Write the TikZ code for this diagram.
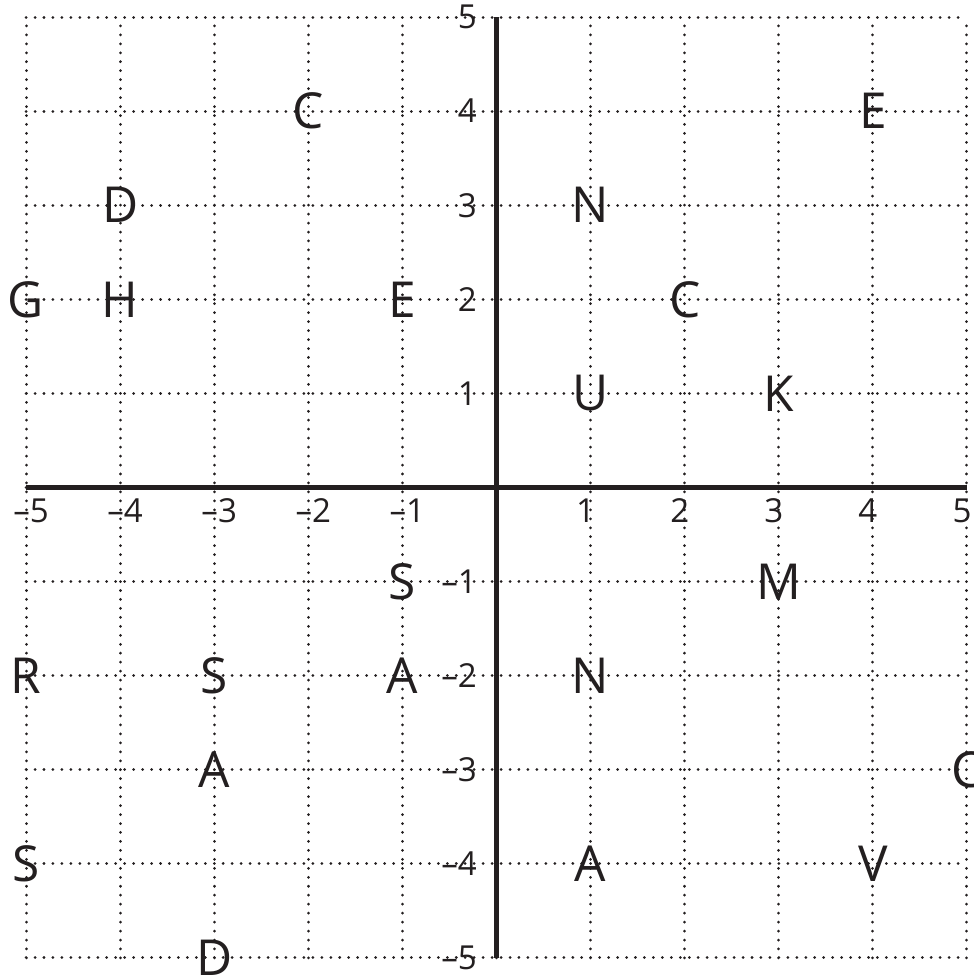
\documentclass[tikz,border=0pt]{standalone}
\usepackage{fontspec}
\setmainfont{Open Sans}
\usepackage{tikz}
\usepackage{xcolor}
\definecolor{ink}{HTML}{231F20}

\begin{document}
\begin{tikzpicture}[x=1cm, y=1cm, line width=0.6pt,
    letter/.style={font=\fontsize{15}{15}\selectfont, text=ink, inner sep=0pt},
    tick/.style={font=\fontsize{10}{10}\selectfont, text=ink, inner sep=0pt}]
    \useasboundingbox (-5.277,-5.213) rectangle (5.074,5.181);
    % dotted grid
    \draw[ink, line width=0.9pt, line cap=round, dash pattern=on 0.01pt off 2.7pt]
          (-5,-5) grid (5,5);
    % axes
    \draw[ink, line width=1.7pt] (-5,0) -- (5,0);
    \draw[ink, line width=1.7pt] (0,-5) -- (0,5);
    % x labels
    \foreach \n in {1,...,5} {
      \node[tick, xshift=-1.5pt] (xp\n) at (\n,-0.245) {\n};
      \node[tick, xshift=1.5pt] (xn\n) at (-\n,-0.245) {–\n};
    }
    % y labels
    \foreach \n in {1,...,5} {
      \node[tick, anchor=east] (yp\n) at (-0.2,\n) {\n};
      \node[tick, anchor=east] (yn\n) at (-0.2,-\n) {–\n};
    }
    % letters
    \foreach \p/\l [count=\i] in {{-2,4}/C, {4,4}/E, {-4,3}/D, {1,3}/N,
          {-5,2}/G, {-4,2}/H, {-1,2}/E, {2,2}/C, {1,1}/U, {3,1}/K,
          {-1,-1}/S, {3,-1}/M, {-5,-2}/R, {-3,-2}/S, {-1,-2}/A, {1,-2}/N,
          {-3,-3}/A, {5,-3}/C, {-5,-4}/S, {1,-4}/A, {4,-4}/V, {-3,-5}/D} {
      \node[letter] (l\i) at (\p) {\l};
    }
\end{tikzpicture}
\end{document}
